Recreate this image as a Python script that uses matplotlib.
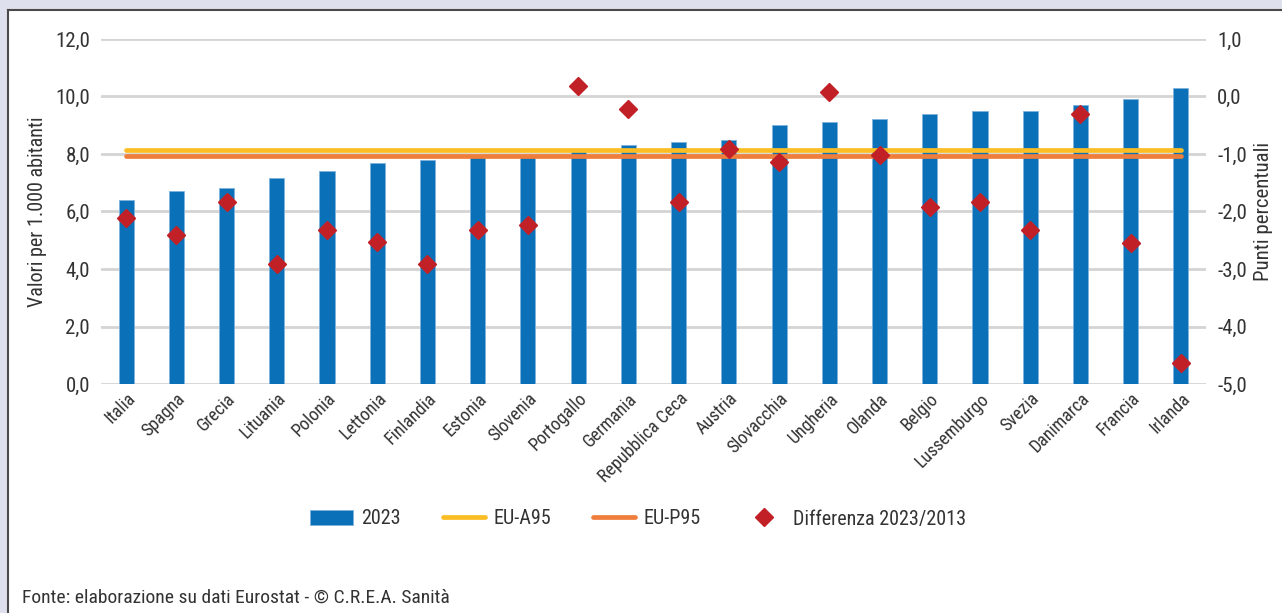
import matplotlib
matplotlib.use('Agg')
import matplotlib.pyplot as plt
from matplotlib import font_manager
from matplotlib.patches import Rectangle
from matplotlib.lines import Line2D
import numpy as np

# pick a narrow font if one is installed
installed = {f.name for f in font_manager.fontManager.ttflist}
font_name = 'Liberation Sans'
for cand in ['Liberation Sans Narrow', 'Noto Sans Condensed', 'Roboto Condensed',
             'Open Sans Condensed', 'DejaVu Sans Condensed']:
    if cand in installed:
        font_name = cand
        break
plt.rcParams['font.family'] = [font_name, 'DejaVu Sans']
if font_name == 'DejaVu Sans Condensed':
    plt.rcParams['font.stretch'] = 'condensed'

countries = ['Italia', 'Spagna', 'Grecia', 'Lituania', 'Polonia', 'Lettonia', 'Finlandia',
             'Estonia', 'Slovenia', 'Portogallo', 'Germania', 'Repubblica Ceca', 'Austria',
             'Slovacchia', 'Ungheria', 'Olanda', 'Belgio', 'Lussemburgo', 'Svezia',
             'Danimarca', 'Francia', 'Irlanda']
values_2023 = [6.4, 6.7, 6.8, 7.15, 7.4, 7.7, 7.8, 7.9, 7.9, 8.1, 8.3, 8.4, 8.5,
               9.0, 9.1, 9.2, 9.4, 9.5, 9.5, 9.7, 9.9, 10.3]
diff_2023_2013 = [-2.12, -2.41, -1.83, -2.91, -2.33, -2.53, -2.91, -2.33, -2.24, 0.19,
                  -0.22, -1.83, -0.92, -1.14, 0.07, -1.01, -1.92, -1.83, -2.33, -0.31,
                  -2.54, -4.64]
eu_a95 = 8.15
eu_p95 = 7.92

blue = '#0a71b9'
yellow = '#fbbd23'
orange = '#ef7d3b'
red = '#c22027'
grid_c = '#d4d4d4'
text_c = '#333333'

fig = plt.figure(figsize=(12.82, 6.13), dpi=100)
fig.patch.set_facecolor('#dfe0ed')

# white panel with dark left/top border
left_px, top_px = 8, 10
fig.patches.append(Rectangle((left_px / 1282, 0), 1, 1 - top_px / 613, transform=fig.transFigure,
                             facecolor='white', edgecolor='none', zorder=-5))
fig.lines.append(Line2D([left_px / 1282, left_px / 1282], [0, 1 - top_px / 613],
                        transform=fig.transFigure, color='#4a4a4a', lw=1.5, zorder=-4))
fig.lines.append(Line2D([left_px / 1282, 1], [1 - top_px / 613, 1 - top_px / 613],
                        transform=fig.transFigure, color='#4a4a4a', lw=1.5, zorder=-4))

ax = fig.add_axes([101 / 1282, 1 - 384 / 613, 1105 / 1282, 345 / 613])
ax.set_facecolor('none')
x = np.arange(len(countries))

bars = ax.bar(x, values_2023, width=0.3, color=blue, edgecolor='#7fb3dc', linewidth=0.6,
              zorder=2, label='2023')
la, = ax.plot(x, [eu_a95] * len(x), color=yellow, lw=3.4, solid_capstyle='round', zorder=3,
              label='EU-A95')
lp, = ax.plot(x, [eu_p95] * len(x), color=orange, lw=3.4, solid_capstyle='round', zorder=3,
              label='EU-P95')

ax.set_ylim(0, 12)
ax.set_xlim(-0.5, len(x) - 0.5)
yt = np.arange(0, 12.1, 2)
ax.set_yticks(yt)
ax.set_yticklabels([f'{v:.1f}'.replace('.', ',') for v in yt])
ax.yaxis.grid(True, color=grid_c, lw=2)
ax.set_axisbelow(True)
ax.tick_params(axis='y', length=0, labelsize=15, colors=text_c, pad=8)
ax.tick_params(axis='x', length=0, labelsize=13, colors=text_c, pad=4)
ax.set_xticks(x)
ax.set_xticklabels(countries, rotation=45, ha='right', rotation_mode='anchor')
for s in ax.spines.values():
    s.set_visible(False)
ax.set_ylabel('Valori per 1.000 abitanti', fontsize=14.5, color=text_c, labelpad=6)

ax2 = ax.twinx()
dm, = ax2.plot(x, diff_2023_2013, linestyle='none', marker='D', ms=9.5, color=red,
               markeredgecolor=red, zorder=4, label='Differenza 2023/2013')
ax2.set_ylim(-5, 1)
yt2 = np.arange(-5, 1.1, 1)
ax2.set_yticks(yt2)
ax2.set_yticklabels([f'{v:.1f}'.replace('.', ',') for v in yt2])
ax2.tick_params(axis='y', length=0, labelsize=15, colors=text_c, pad=8)
for s in ax2.spines.values():
    s.set_visible(False)
ax2.set_ylabel('Punti percentuali', fontsize=15, color=text_c, labelpad=5)

fig.legend([bars, la, lp, dm], ['2023', 'EU-A95', 'EU-P95', 'Differenza 2023/2013'],
           loc='center', bbox_to_anchor=(0.498, 1 - 519 / 613), ncol=4,
           frameon=False, fontsize=14.5, handlelength=2.1, handletextpad=0.4,
           columnspacing=2.1, labelcolor=text_c)

fig.text(22 / 1282, 1 - 598 / 613, 'Fonte: elaborazione su dati Eurostat - © C.R.E.A. Sanità',
         fontsize=14, color=text_c, va='center', ha='left')

fig.savefig('out.png', dpi=100, facecolor=fig.get_facecolor())
